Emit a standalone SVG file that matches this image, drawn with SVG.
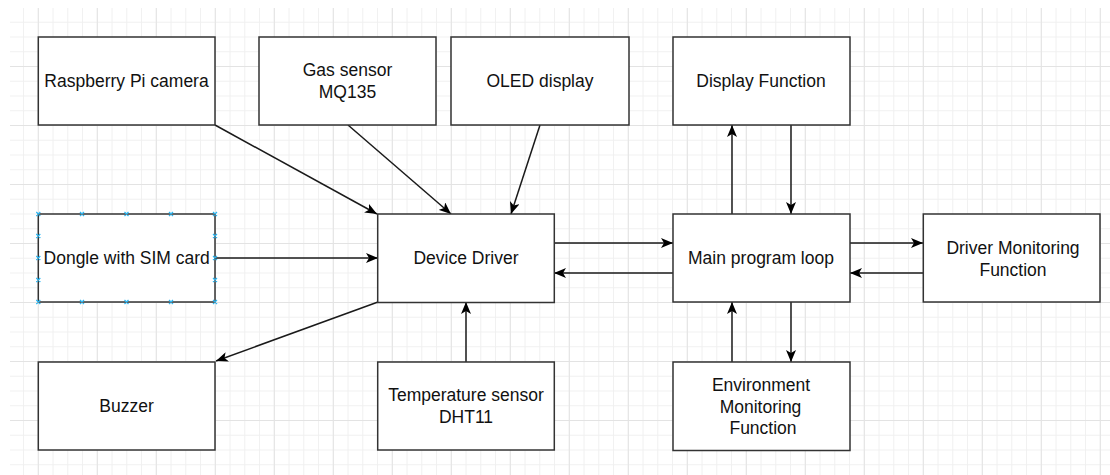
<svg xmlns="http://www.w3.org/2000/svg" width="1110" height="475" viewBox="0 0 1110 475">
<style>
.box{fill:#fff;stroke:#333;stroke-width:1.5}
.lbl{font-family:"Liberation Sans",Arial,sans-serif;font-size:17.5px;fill:#111;text-anchor:middle}
.edge{fill:none;stroke:#1a1a1a;stroke-width:1.5;marker-end:url(#arr)}
.h{stroke:#29b6f2;stroke-width:1.2;fill:none}
</style>
<defs>
<marker id="arr" viewBox="0 0 12 10" refX="12" refY="5" markerWidth="12" markerHeight="10" markerUnits="userSpaceOnUse" orient="auto">
<path d="M0,0 L12,5 L0,10 L3,5 Z" fill="#000"/>
</marker>
<pattern id="gmin" patternUnits="userSpaceOnUse" x="23.05" y="7" width="14.75" height="14.75">
<path d="M0.5,0 V14.75 M0,0.5 H14.75" stroke="#f0f0f0" stroke-width="1" fill="none"/>
</pattern>
<pattern id="gmaj" patternUnits="userSpaceOnUse" x="37.8" y="66" width="59" height="59">
<path d="M0.5,0 V59 M0,0.5 H59" stroke="#e3e3e3" stroke-width="1" fill="none"/>
</pattern>
</defs>
<rect width="1110" height="475" fill="#fff"/>
<g id="grid">
<rect x="10" y="8" width="1100" height="467" fill="url(#gmin)"/>
<rect x="10" y="8" width="1100" height="467" fill="url(#gmaj)"/>
</g>
<g id="connectors">
<path class="edge" d="M215,125 L377,214"/>
<path class="edge" d="M348,125 L451,214"/>
<path class="edge" d="M540,125 L511,214"/>
<path class="edge" d="M215,258 L378,258"/>
<path class="edge" d="M554,243 L673,243"/>
<path class="edge" d="M673,273 L554,273"/>
<path class="edge" d="M378,302 L216,361"/>
<path class="edge" d="M466,362 L466,302"/>
<path class="edge" d="M732,214 L732,125"/>
<path class="edge" d="M791,125 L791,214"/>
<path class="edge" d="M850,243 L923,243"/>
<path class="edge" d="M923,273 L850,273"/>
<path class="edge" d="M791,302 L791,362"/>
<path class="edge" d="M732,362 L732,302"/>
</g>
<g id="rpi-camera">
<rect class="box" x="38.3" y="37" width="176.7" height="88"/>
<text class="lbl" x="126.5" y="87">Raspberry Pi camera</text>
</g>
<g id="gas-sensor">
<rect class="box" x="259" y="37" width="177" height="88"/>
<text class="lbl" x="347.5" y="76">Gas sensor</text>
<text class="lbl" x="347.5" y="98">MQ135</text>
</g>
<g id="oled-display">
<rect class="box" x="451" y="37" width="178" height="88"/>
<text class="lbl" x="540" y="87">OLED display</text>
</g>
<g id="display-function">
<rect class="box" x="673" y="37" width="177" height="88"/>
<text class="lbl" x="761" y="87">Display Function</text>
</g>
<g id="dongle">
<rect class="box" x="38.3" y="214" width="176.7" height="88"/>
<text class="lbl" x="126.7" y="264">Dongle with SIM card</text>
<path class="h" d="M36.3,212 l4,4 m0,-4 l-4,4 M80,212 l4,4 m0,-4 l-4,4 M124.5,212 l4,4 m0,-4 l-4,4 M169,212 l4,4 m0,-4 l-4,4 M213,212 l4,4 m0,-4 l-4,4 M36.3,300 l4,4 m0,-4 l-4,4 M80,300 l4,4 m0,-4 l-4,4 M124.5,300 l4,4 m0,-4 l-4,4 M169,300 l4,4 m0,-4 l-4,4 M213,300 l4,4 m0,-4 l-4,4 M36.3,234 l4,4 m0,-4 l-4,4 M36.3,256 l4,4 m0,-4 l-4,4 M36.3,278 l4,4 m0,-4 l-4,4 M213,234 l4,4 m0,-4 l-4,4 M213,256 l4,4 m0,-4 l-4,4 M213,278 l4,4 m0,-4 l-4,4"/>
</g>
<g id="device-driver">
<rect class="box" x="377.7" y="214" width="176.6" height="88.5"/>
<text class="lbl" x="466" y="264">Device Driver</text>
</g>
<g id="main-loop">
<rect class="box" x="673" y="214" width="177" height="88"/>
<text class="lbl" x="761" y="264">Main program loop</text>
</g>
<g id="driver-monitoring">
<rect class="box" x="923.3" y="214" width="176.7" height="88"/>
<text class="lbl" x="1013" y="254">Driver Monitoring</text>
<text class="lbl" x="1013" y="276">Function</text>
</g>
<g id="buzzer">
<rect class="box" x="38.3" y="362" width="176.7" height="88"/>
<text class="lbl" x="126.5" y="412">Buzzer</text>
</g>
<g id="temperature-sensor">
<rect class="box" x="377.7" y="362" width="176.6" height="88"/>
<text class="lbl" x="466" y="401">Temperature sensor</text>
<text class="lbl" x="466" y="423">DHT11</text>
</g>
<g id="environment-monitoring">
<rect class="box" x="673" y="362" width="177" height="88.5"/>
<text class="lbl" x="761" y="391">Environment</text>
<text class="lbl" x="760.5" y="412.5">Monitoring</text>
<text class="lbl" x="763" y="434">Function</text>
</g>
</svg>
